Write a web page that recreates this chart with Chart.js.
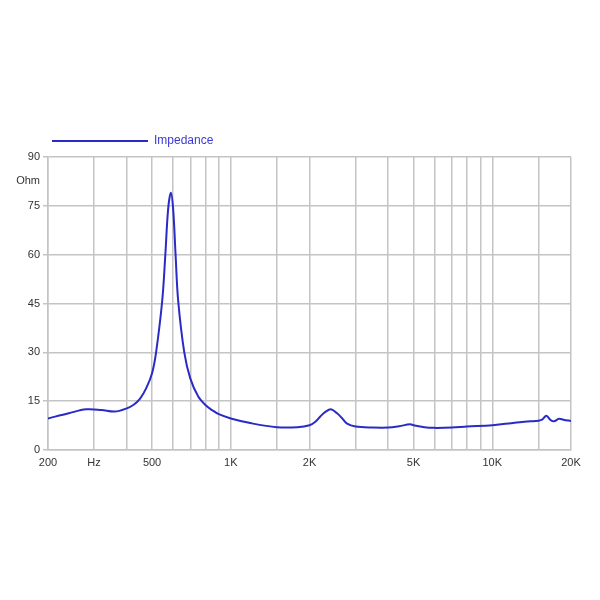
<!DOCTYPE html>
<html>
<head>
<meta charset="utf-8">
<script src="https://cdn.jsdelivr.net/npm/chart.js@4.4.0/dist/chart.umd.min.js"></script>
<style>
  html, body { margin: 0; padding: 0; background: #fff; }
  #wrap { width: 600px; height: 600px; }
</style>
</head>
<body>
<div id="wrap"><canvas id="myChart" width="600" height="600"></canvas></div>
<script>
'use strict';

// frequency (Hz) and impedance (Ohm)
let freqs = [200, 240, 280, 320, 360, 400, 425, 450, 475, 500, 518, 547, 562, 576, 590,
  602, 615, 629, 664, 700, 750, 800, 850, 900, 1000, 1200, 1500, 1800, 2000, 2100, 2200, 2300, 2416, 2550, 2655, 2775,
  3000, 3500, 4000, 4400, 4850, 5000, 5500, 6000, 7000, 8000, 10000, 11000, 12000, 13000, 14000, 15000,
  15500, 16100, 16700, 17200, 18000, 18700, 20000];
let ohms = [9.7, 11.3, 12.5, 12.3, 11.8, 12.8, 13.9, 15.8, 19.0, 23.6, 30, 46, 60, 74, 79,
  74, 60, 46, 30, 22, 16.5, 13.8, 12.2, 11.0, 9.7, 8.2, 7.0, 7.0, 7.6, 8.6, 10.3, 11.7, 12.5, 11.3, 9.9, 8.2,
  7.2, 6.9, 6.9, 7.3, 7.9, 7.6, 7.0, 6.8, 6.9, 7.2, 7.6, 8.0, 8.3, 8.6, 8.8, 9.0,
  9.3, 10.5, 9.2, 8.8, 9.6, 9.3, 8.9];

let xGrid = [200, 300, 400, 500, 600, 700, 800, 900, 1000, 1500, 2000, 3000, 4000, 5000,
  6000, 7000, 8000, 9000, 10000, 15000, 20000];
let xLabels = { 200: '200', 300: 'Hz', 500: '500', 1000: '1K', 2000: '2K', 5000: '5K', 10000: '10K', 20000: '20K' };
let yGrid = [0, 15, 30, 45, 60, 75, 82.5, 90];
let yLabels = { 0: '0', 15: '15', 30: '30', 45: '45', 60: '60', 75: '75', 82.5: 'Ohm', 90: '90' };

let points = [];
for (let i = 0; i < freqs.length; i++) {
  points.push({ x: freqs[i], y: ohms[i] });
}

let lineColor = '#2a2ac6';
let gridColor = '#c4c4c4';

// push the legend to the right, in line with the plot
let legendShift = {
  id: 'legendShift',
  afterLayout: function (chart) {
    chart.legend.left = 44;
  }
};

let ctx = document.getElementById('myChart').getContext('2d');
let chart = new Chart(ctx, {
  type: 'line',
  data: {
    datasets: [{
      label: 'Impedance',
      data: points,
      borderColor: lineColor,
      backgroundColor: lineColor,
      borderWidth: 2,
      pointRadius: 0,
      tension: 0.35,
      fill: false
    }]
  },
  plugins: [legendShift],
  options: {
    responsive: false,
    animation: false,
    layout: { padding: { left: 0, right: 29, top: 127, bottom: 125 } },
    plugins: {
      tooltip: { enabled: false },
      legend: {
        position: 'top',
        align: 'start',
        labels: {
          boxWidth: 96,
          boxHeight: 0,
          color: '#3a3ad2',
          font: { family: 'Liberation Sans', size: 12 },
          padding: 8
        }
      }
    },
    scales: {
      x: {
        type: 'logarithmic',
        min: 200,
        max: 20000,
        afterBuildTicks: function (axis) {
          axis.ticks = xGrid.map(function (v) { return { value: v }; });
        },
        afterFit: function (axis) { axis.height = 25; },
        grid: { color: gridColor, lineWidth: 1.5, tickLength: 0, drawTicks: false },
        border: { color: gridColor, width: 1.5 },
        ticks: {
          autoSkip: false,
          maxRotation: 0,
          padding: 6,
          color: '#333',
          font: { family: 'Liberation Sans', size: 11 },
          callback: function (value) { return xLabels[value] || ''; }
        }
      },
      y: {
        min: 0,
        max: 90,
        afterBuildTicks: function (axis) {
          axis.ticks = yGrid.map(function (v) { return { value: v }; });
        },
        afterFit: function (axis) { axis.width = 48; },
        grid: {
          lineWidth: 1.5,
          tickLength: 5,
          color: function (c) { return c.tick && c.tick.value === 82.5 ? 'rgba(0,0,0,0)' : gridColor; }
        },
        border: { color: gridColor, width: 1.5 },
        ticks: {
          autoSkip: false,
          padding: 3,
          color: '#333',
          font: { family: 'Liberation Sans', size: 11 },
          callback: function (value) { return yLabels[value] || ''; }
        }
      }
    }
  }
});
</script>
</body>
</html>
